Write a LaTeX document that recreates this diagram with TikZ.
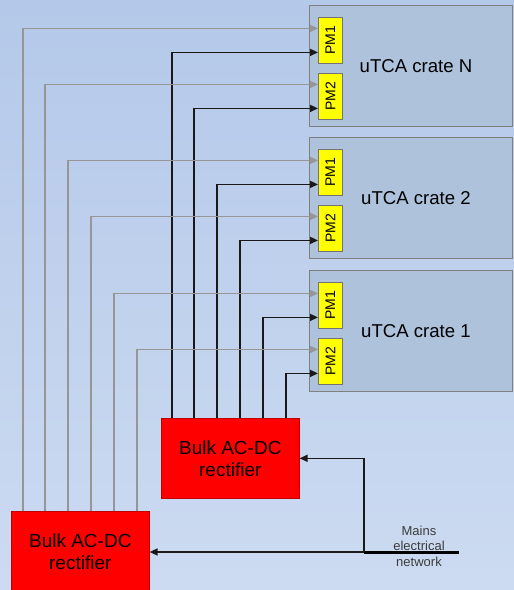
\documentclass[tikz,border=0pt]{standalone}
\usepackage{fontspec}
\setmainfont{Liberation Sans}
\usetikzlibrary{positioning,arrows.meta,calc}
\definecolor{bgtop}{RGB}{180,200,233}
\definecolor{bgbot}{RGB}{204,219,241}
\definecolor{cratefill}{RGB}{174,194,220}
\definecolor{crateline}{RGB}{128,128,128}
\definecolor{pmyellow}{RGB}{255,255,0}
\definecolor{feedgray}{RGB}{150,150,150}
\definecolor{labelgray}{RGB}{60,60,60}
\tikzset{
  crate/.style={draw=crateline, fill=cratefill, line width=1pt, anchor=north west,
    minimum width=203pt, minimum height=121pt, inner sep=0pt},
  pm/.style={draw=black!55, fill=pmyellow, line width=0.8pt, anchor=north west,
    minimum width=24pt, minimum height=46pt, inner sep=0pt, font=\fontsize{14}{16}\selectfont},
  rectifier/.style={draw=red!75!black, fill=red, line width=0.6pt, anchor=north west,
    minimum width=138pt, minimum height=80pt, inner sep=0pt, align=center,
    font=\fontsize{19}{22}\selectfont},
  feedL/.style={draw=feedgray, line width=1.4pt, -{Triangle[length=8pt,width=7pt]}},
  feedU/.style={draw=black!90, line width=1.5pt, -{Triangle[length=8pt,width=7pt]}},
}
\begin{document}
\begin{tikzpicture}[x=1pt,y=-1pt]
  \useasboundingbox (0,0) rectangle (514,590);
  \clip (0,0) rectangle (514,590);
  \shade[top color=bgtop, bottom color=bgbot] (0,0) rectangle (514,590);
  \foreach \c/\t in {N/5, 2/137, 1/270}{
    \node[crate] (cr\c) at (309,\t) {};
    \node[pm] (pm\c1) at (318,\t+12) {\rotatebox{90}{PM1}};
    \node[pm] (pm\c2) at (318,\t+68) {\rotatebox{90}{PM2}};
    \node[font=\fontsize{18.6}{21}\selectfont] (lab\c) at (416,\t+61) {uTCA crate \c};
  }
  \node[rectifier] (rectU) at (161,418) {Bulk AC-DC\\rectifier};
  \node[rectifier] (rectL) at (11,511) {Bulk AC-DC\\rectifier};
  \foreach \dx/\pm in {12/pmN1, 34/pmN2, 57/pm21, 80/pm22, 103/pm11, 126/pm12}{
    \draw[feedL] ([xshift=\dx pt]rectL.north west) |- ([yshift=12pt]\pm.west);
    \draw[feedU] ([xshift=\dx pt-1pt]rectU.north west) |- ([yshift=-12pt]\pm.west);
  }
  \coordinate (tap) at (364,552);
  \coordinate (mainsend) at (459,552);
  \draw[line width=3pt] (tap) -- (mainsend);
  \draw[feedU] (tap) |- (rectU.east);
  \draw[feedU] (tap) -- (tap -| rectL.east);
  \node[align=center, text=labelgray, font=\fontsize{13}{15.5}\selectfont] (mains) at (419,546) {Mains\\electrical\\network};
\end{tikzpicture}
\end{document}
